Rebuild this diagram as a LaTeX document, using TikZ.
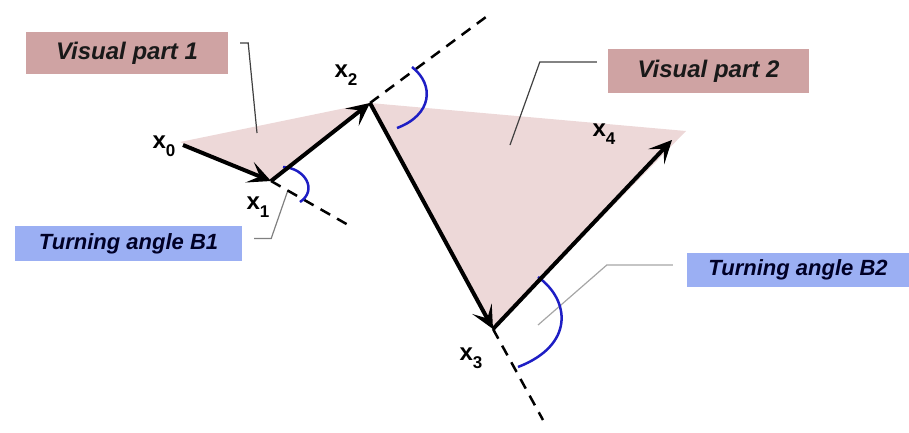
\documentclass[tikz,border=0pt]{standalone}
\usepackage{fontspec}
\setmainfont{Liberation Sans}
\usetikzlibrary{arrows.meta,calc}
\definecolor{partpink}{HTML}{CFA3A3}
\definecolor{partfill}{HTML}{EDD8D8}
\definecolor{anglebl}{HTML}{9BAFF3}
\definecolor{arcblue}{HTML}{1E1EC4}
\definecolor{calloutgray}{HTML}{404040}
\tikzset{
    every node/.style={font=\bfseries\itshape\fontsize{22}{24}\selectfont},
    partbox/.style={fill=partpink,text=black!90,inner sep=0pt,font=\bfseries\itshape\fontsize{24}{26}\selectfont},
    anglebox/.style={fill=anglebl,text=blue!15!black,inner sep=0pt},
    ptlabel/.style={font=\bfseries\fontsize{24}{26}\selectfont,inner sep=0pt},
    vec/.style={draw,line width=4pt,-{Stealth[length=23pt,width=22pt,inset=11pt]}},
    ext/.style={draw,line width=2.5pt,dash pattern=on 11pt off 8pt},
    turn/.style={draw=arcblue,line width=2.5pt},
    callout/.style={draw=calloutgray,line width=1.2pt}
}
\newcommand{\ptname}[1]{x\raisebox{-8pt}{\fontsize{17}{17}\selectfont #1}}

\begin{document}
\begin{tikzpicture}[x=1pt,y=-1pt]
    \useasboundingbox (0,0) rectangle (909,432);
    % trajectory points
    \coordinate (x0) at (183,145);
    \coordinate (x1) at (271,181);
    \coordinate (x2) at (370,103);
    \coordinate (x3) at (493,329);
    \coordinate (x4) at (672,140);
    \coordinate (x4f) at (686,131);
    \coordinate (e1) at (350,226);
    \coordinate (e2) at (490,14);
    \coordinate (e3) at (543,420);
    % visual parts
    \fill[partfill] (180,142) -- (x1) -- (x2) -- cycle;
    \fill[partfill] (x2) -- (x4f) -- (x3) -- cycle;
    % boxes
    \node[partbox,minimum width=202pt,minimum height=42pt] (vp1) at (127,53) {Visual part 1};
    \node[partbox,minimum width=201pt,minimum height=44pt] (vp2) at (708.5,71) {Visual part 2};
    \node[anglebox,minimum width=227pt,minimum height=35pt] (tb1) at (128.5,243.5) {Turning angle B1};
    \node[anglebox,minimum width=222pt,minimum height=34pt] (tb2) at (798,270) {Turning angle B2};
    % callouts
    \coordinate (c1) at (257,133);
    \coordinate (c2) at (510,145);
    \coordinate (c3) at (288,190);
    \coordinate (c4) at (538,325);
    \draw[callout] ([xshift=12pt,yshift=10pt]vp1.east) -- ++(8,0) -- (c1);
    \draw[callout] ([xshift=-11pt,yshift=9pt]vp2.west) -- ++(-57,0) -- (c2);
    \draw[callout,draw=gray] ([xshift=12pt,yshift=5pt]tb1.east) -- ++(17,0) -- (c3);
    \draw[callout,draw=gray!70] ([xshift=-14pt,yshift=5pt]tb2.west) -- ++(-66,0) -- (c4);
    % extensions
    \draw[ext] (x1) -- (e1);
    \draw[ext] (x2) -- (e2);
    \draw[ext] (x3) -- (e3);
    % turning angles
    \draw[turn] (283,167) .. controls (305,168) and (318,190) .. (300,202);
    \draw[turn] (412,67) .. controls (435,85) and (432,115) .. (397,128);
    \draw[turn] (538,277) .. controls (570,300) and (575,345) .. (518,367);
    % steps
    \draw[vec] (x0) -- (x1);
    \draw[vec] (x1) -- (x2);
    \draw[vec] (x2) -- (x3);
    \draw[vec] (x3) -- (x4);
    % point labels
    \node[ptlabel] (lx0) at (164,146) {\ptname{0}};
    \node[ptlabel] (lx1) at (258,207) {\ptname{1}};
    \node[ptlabel] (lx2) at (346,75) {\ptname{2}};
    \node[ptlabel] (lx3) at (471,358) {\ptname{3}};
    \node[ptlabel] (lx4) at (604,134) {\ptname{4}};
\end{tikzpicture}
\end{document}
